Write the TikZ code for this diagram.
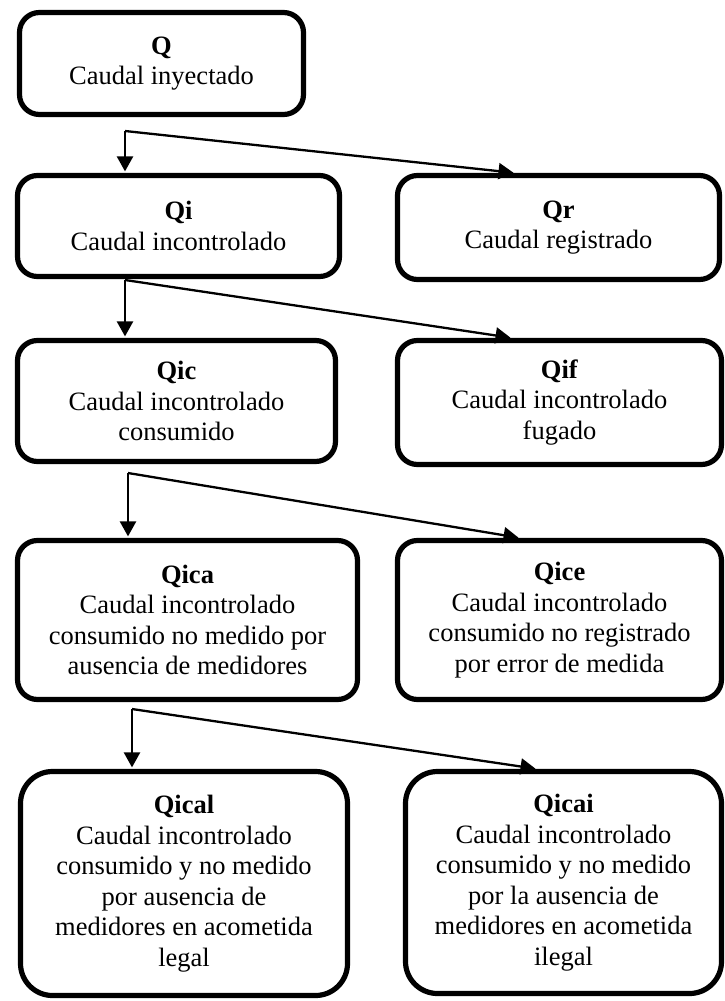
\documentclass[tikz,border=0pt]{standalone}
\usepackage{fontspec}
\setmainfont{Liberation Serif}
\usetikzlibrary{arrows.meta}
\begin{document}
\begin{tikzpicture}[x=1pt,y=-1pt,
  box/.style={draw=black, line width=5.2pt, rounded corners=20pt, align=center, inner sep=0pt,
    font=\fontsize{26.5}{30.5}\selectfont},
  bigbox/.style={box, rounded corners=32pt},
  arr/.style={line width=2.3pt, -{Triangle[width=16pt,length=15pt]}, shorten >=1.5pt}]
\useasboundingbox (0,0) rectangle (725,1001);

\node[box, minimum width=284pt, minimum height=102pt] (Q) at (161.5,63.5)
  {\textbf{Q}\\Caudal inyectado};
\node[box, minimum width=322pt, minimum height=101pt] (Qi) at (178.5,226)
  {\textbf{Qi}\\Caudal incontrolado};
\node[box, minimum width=322pt, minimum height=104pt] (Qr) at (558.5,227.5)
  {\textbf{Qr}\\Caudal registrado};
\node[box, minimum width=318pt, minimum height=121pt] (Qic) at (176.5,401)
  {\textbf{Qic}\\Caudal incontrolado\\consumido};
\node[box, minimum width=324pt, minimum height=124pt] (Qif) at (559.5,402.5)
  {\textbf{Qif}\\Caudal incontrolado\\fugado};
\node[box, minimum width=340pt, minimum height=159pt] (Qica) at (187.5,620)
  {\textbf{Qica}\\Caudal incontrolado\\consumido no medido por\\ausencia de medidores};
\node[box, minimum width=324pt, minimum height=159pt] (Qice) at (559.5,620)
  {\textbf{Qice}\\Caudal incontrolado\\consumido no registrado\\por error de medida};
\node[bigbox, minimum width=327pt, minimum height=224pt] (Qical) at (184,883.5)
  {\textbf{Qical}\\Caudal incontrolado\\consumido y no medido\\por ausencia de\\medidores en acometida\\legal};
\node[bigbox, minimum width=316pt, minimum height=222pt] (Qicai) at (563.5,882.5)
  {\textbf{Qicai}\\Caudal incontrolado\\consumido y no medido\\por la ausencia de\\medidores en acometida\\ilegal};

\coordinate (b1) at (125,131);
\coordinate (b2) at (125,280);
\coordinate (b3) at (128,473);
\coordinate (b4) at (132,709);

\draw[arr] (b1) -- (b1 |- Qi.north);
\draw[arr] (b1) -- ([xshift=-43.5pt]Qr.north);
\draw[arr] (b2) -- (b2 |- Qic.north);
\draw[arr] (b2) -- ([xshift=-47.5pt]Qif.north);
\draw[arr] (b3) -- (b3 |- Qica.north);
\draw[arr] (b3) -- ([xshift=-39.5pt]Qice.north);
\draw[arr] (b4) -- (b4 |- Qical.north);
\draw[arr] (b4) -- ([xshift=-26.5pt]Qicai.north);
\end{tikzpicture}
\end{document}
